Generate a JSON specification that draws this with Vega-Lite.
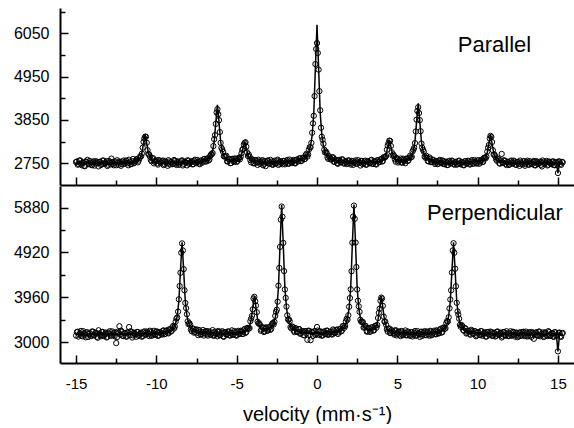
{
"$schema": "https://vega.github.io/schema/vega-lite/v6.json",
"padding": {"left": 13, "top": 8, "right": 0, "bottom": 0},
"config": {"view": {"stroke": null}, "font": "Liberation Sans",
 "axis": {"domainColor": "#000", "tickColor": "#000", "labelColor": "#000", "labelFont": "Liberation Sans", "titleFont": "Liberation Sans", "titleColor": "#000", "grid": false, "labelFlush": false, "labelOverlap": false, "domainWidth": 2, "tickWidth": 1.5}},
"data": {"values": [
{"v":-15,"a":2781,"af":2756,"b":3138,"bf":3168},
{"v":-14.9,"a":2716,"af":2756,"b":3223,"bf":3168},
{"v":-14.8,"a":2816,"af":2756,"b":3158,"bf":3168},
{"v":-14.7,"a":2741,"af":2756,"b":3238,"bf":3168},
{"v":-14.6,"a":2761,"af":2756,"b":3123,"bf":3168},
{"v":-14.5,"a":2686,"af":2756,"b":3188,"bf":3168},
{"v":-14.4,"a":2791,"af":2756,"b":3103,"bf":3168},
{"v":-14.3,"a":2836,"af":2756,"b":3208,"bf":3168},
{"v":-14.2,"a":2726,"af":2756,"b":3173,"bf":3168},
{"v":-14.1,"a":2766,"af":2756,"b":3133,"bf":3168},
{"v":-14,"a":2701,"af":2756,"b":3228,"bf":3168},
{"v":-13.9,"a":2802,"af":2757,"b":3148,"bf":3168},
{"v":-13.8,"a":2752,"af":2757,"b":3198,"bf":3168},
{"v":-13.7,"a":2777,"af":2757,"b":3113,"bf":3168},
{"v":-13.6,"a":2672,"af":2757,"b":3253,"bf":3168},
{"v":-13.5,"a":2787,"af":2757,"b":3153,"bf":3168},
{"v":-13.4,"a":2732,"af":2757,"b":3214,"bf":3169},
{"v":-13.3,"a":2822,"af":2757,"b":3129,"bf":3169},
{"v":-13.2,"a":2747,"af":2757,"b":3179,"bf":3169},
{"v":-13.1,"a":2807,"af":2757,"b":3099,"bf":3169},
{"v":-13,"a":2712,"af":2757,"b":3204,"bf":3169},
{"v":-12.9,"a":2774,"af":2759,"b":3234,"bf":3169},
{"v":-12.8,"a":2869,"af":2759,"b":3144,"bf":3169},
{"v":-12.7,"a":2740,"af":2760,"b":3189,"bf":3169},
{"v":-12.6,"a":2800,"af":2760,"b":3124,"bf":3169},
{"v":-12.5,"a":2701,"af":2761,"b":2979,"bf":3169},
{"v":-12.4,"a":2767,"af":2762,"b":3220,"bf":3170},
{"v":-12.3,"a":2797,"af":2762,"b":3340,"bf":3170},
{"v":-12.2,"a":2688,"af":2763,"b":3245,"bf":3170},
{"v":-12.1,"a":2789,"af":2764,"b":3135,"bf":3170},
{"v":-12,"a":2735,"af":2765,"b":3195,"bf":3170},
{"v":-11.9,"a":2822,"af":2767,"b":3121,"bf":3171},
{"v":-11.8,"a":2754,"af":2769,"b":3211,"bf":3171},
{"v":-11.7,"a":2842,"af":2772,"b":3321,"bf":3171},
{"v":-11.6,"a":2725,"af":2775,"b":3232,"bf":3172},
{"v":-11.5,"a":2800,"af":2780,"b":3097,"bf":3172},
{"v":-11.4,"a":2753,"af":2788,"b":3202,"bf":3172},
{"v":-11.3,"a":2808,"af":2798,"b":3162,"bf":3172},
{"v":-11.2,"a":2861,"af":2816,"b":3218,"bf":3173},
{"v":-11.1,"a":2820,"af":2845,"b":3133,"bf":3173},
{"v":-11,"a":2930,"af":2900,"b":3188,"bf":3173},
{"v":-10.9,"a":2995,"af":3015,"b":3114,"bf":3174},
{"v":-10.8,"a":3294,"af":3254,"b":3210,"bf":3175},
{"v":-10.7,"a":3426,"af":3476,"b":3150,"bf":3175},
{"v":-10.6,"a":3271,"af":3256,"b":3226,"bf":3176},
{"v":-10.5,"a":2986,"af":3016,"b":3172,"bf":3177},
{"v":-10.4,"a":2921,"af":2901,"b":3243,"bf":3178},
{"v":-10.3,"a":2802,"af":2847,"b":3134,"bf":3179},
{"v":-10.2,"a":2878,"af":2818,"b":3201,"bf":3181},
{"v":-10.1,"a":2790,"af":2800,"b":3152,"bf":3182},
{"v":-10,"a":2825,"af":2790,"b":3224,"bf":3184},
{"v":-9.9,"a":2718,"af":2783,"b":3132,"bf":3187},
{"v":-9.8,"a":2803,"af":2778,"b":3214,"bf":3189},
{"v":-9.7,"a":2770,"af":2775,"b":3178,"bf":3193},
{"v":-9.6,"a":2822,"af":2772,"b":3242,"bf":3197},
{"v":-9.5,"a":2730,"af":2770,"b":3168,"bf":3203},
{"v":-9.4,"a":2783,"af":2768,"b":3240,"bf":3210},
{"v":-9.3,"a":2687,"af":2767,"b":3200,"bf":3220},
{"v":-9.2,"a":2796,"af":2766,"b":3274,"bf":3234},
{"v":-9.1,"a":2770,"af":2765,"b":3224,"bf":3254},
{"v":-9,"a":2730,"af":2765,"b":3318,"bf":3283},
{"v":-8.9,"a":2834,"af":2764,"b":3291,"bf":3331},
{"v":-8.8,"a":2744,"af":2764,"b":3439,"bf":3409},
{"v":-8.7,"a":2804,"af":2764,"b":3526,"bf":3561},
{"v":-8.6,"a":2710,"af":2765,"b":3916,"bf":3876},
{"v":-8.5,"a":2775,"af":2765,"b":4485,"bf":4530},
{"v":-8.4,"a":2826,"af":2766,"b":5114,"bf":5139},
{"v":-8.3,"a":2736,"af":2766,"b":4562,"bf":4532},
{"v":-8.2,"a":2787,"af":2767,"b":3838,"bf":3878},
{"v":-8.1,"a":2698,"af":2768,"b":3598,"bf":3563},
{"v":-8,"a":2814,"af":2769,"b":3382,"bf":3412},
{"v":-7.9,"a":2760,"af":2770,"b":3374,"bf":3334},
{"v":-7.8,"a":2802,"af":2772,"b":3232,"bf":3287},
{"v":-7.7,"a":2729,"af":2774,"b":3282,"bf":3257},
{"v":-7.6,"a":2841,"af":2776,"b":3217,"bf":3237},
{"v":-7.5,"a":2754,"af":2779,"b":3273,"bf":3223},
{"v":-7.4,"a":2797,"af":2782,"b":3148,"bf":3213},
{"v":-7.3,"a":2726,"af":2786,"b":3222,"bf":3207},
{"v":-7.2,"a":2827,"af":2792,"b":3166,"bf":3201},
{"v":-7.1,"a":2795,"af":2800,"b":3257,"bf":3197},
{"v":-7,"a":2861,"af":2811,"b":3184,"bf":3194},
{"v":-6.9,"a":2796,"af":2826,"b":3237,"bf":3192},
{"v":-6.8,"a":2873,"af":2848,"b":3139,"bf":3189},
{"v":-6.7,"a":2844,"af":2884,"b":3208,"bf":3188},
{"v":-6.6,"a":2976,"af":2946,"b":3157,"bf":3187},
{"v":-6.5,"a":3012,"af":3062,"b":3256,"bf":3186},
{"v":-6.4,"a":3363,"af":3303,"b":3145,"bf":3185},
{"v":-6.3,"a":3750,"af":3790,"b":3189,"bf":3184},
{"v":-6.2,"a":4122,"af":4232,"b":3123,"bf":3183},
{"v":-6.1,"a":3845,"af":3795,"b":3218,"bf":3183},
{"v":-6,"a":3268,"af":3303,"b":3157,"bf":3182},
{"v":-5.9,"a":3103,"af":3063,"b":3233,"bf":3183},
{"v":-5.8,"a":2929,"af":2949,"b":3113,"bf":3183},
{"v":-5.7,"a":2924,"af":2889,"b":3213,"bf":3183},
{"v":-5.6,"a":2800,"af":2855,"b":3168,"bf":3183},
{"v":-5.5,"a":2855,"af":2835,"b":3224,"bf":3184},
{"v":-5.4,"a":2752,"af":2822,"b":3140,"bf":3185},
{"v":-5.3,"a":2860,"af":2815,"b":3251,"bf":3186},
{"v":-5.2,"a":2799,"af":2814,"b":3157,"bf":3187},
{"v":-5.1,"a":2876,"af":2816,"b":3210,"bf":3190},
{"v":-5,"a":2785,"af":2825,"b":3138,"bf":3193},
{"v":-4.9,"a":2868,"af":2843,"b":3241,"bf":3196},
{"v":-4.8,"a":2851,"af":2881,"b":3181,"bf":3201},
{"v":-4.7,"a":3004,"af":2964,"b":3236,"bf":3206},
{"v":-4.6,"a":3119,"af":3139,"b":3175,"bf":3215},
{"v":-4.5,"a":3270,"af":3300,"b":3283,"bf":3228},
{"v":-4.4,"a":3171,"af":3136,"b":3213,"bf":3248},
{"v":-4.3,"a":2934,"af":2959,"b":3306,"bf":3281},
{"v":-4.2,"a":2923,"af":2873,"b":3299,"bf":3344},
{"v":-4.1,"a":2773,"af":2833,"b":3504,"bf":3474},
{"v":-4,"a":2826,"af":2811,"b":3701,"bf":3741},
{"v":-3.9,"a":2752,"af":2797,"b":3969,"bf":3989},
{"v":-3.8,"a":2820,"af":2790,"b":3781,"bf":3746},
{"v":-3.7,"a":2709,"af":2784,"b":3438,"bf":3483},
{"v":-3.6,"a":2800,"af":2780,"b":3399,"bf":3359},
{"v":-3.5,"a":2768,"af":2778,"b":3242,"bf":3302},
{"v":-3.4,"a":2831,"af":2776,"b":3307,"bf":3277},
{"v":-3.3,"a":2739,"af":2774,"b":3215,"bf":3265},
{"v":-3.2,"a":2679,"af":2774,"b":3309,"bf":3264},
{"v":-3.1,"a":2812,"af":2772,"b":3245,"bf":3270},
{"v":-3,"a":2752,"af":2772,"b":3319,"bf":3284},
{"v":-2.9,"a":2837,"af":2772,"b":3262,"bf":3307},
{"v":-2.8,"a":2722,"af":2772,"b":3384,"bf":3344},
{"v":-2.7,"a":2783,"af":2773,"b":3378,"bf":3408},
{"v":-2.6,"a":2742,"af":2772,"b":3561,"bf":3516},
{"v":-2.5,"a":2818,"af":2773,"b":3693,"bf":3728},
{"v":-2.4,"a":2709,"af":2774,"b":4209,"bf":4169},
{"v":-2.3,"a":2801,"af":2776,"b":5039,"bf":5084},
{"v":-2.2,"a":2761,"af":2776,"b":5903,"bf":5933},
{"v":-2.1,"a":2812,"af":2777,"b":5124,"bf":5084},
{"v":-2,"a":2724,"af":2779,"b":4127,"bf":4167},
{"v":-1.9,"a":2801,"af":2781,"b":3761,"bf":3726},
{"v":-1.8,"a":2743,"af":2783,"b":3482,"bf":3512},
{"v":-1.7,"a":2846,"af":2786,"b":3447,"bf":3402},
{"v":-1.6,"a":2765,"af":2790,"b":3295,"bf":3335},
{"v":-1.5,"a":2805,"af":2795,"b":3324,"bf":3294},
{"v":-1.4,"a":2755,"af":2800,"b":3213,"bf":3268},
{"v":-1.3,"a":2837,"af":2807,"b":3289,"bf":3249},
{"v":-1.2,"a":2794,"af":2814,"b":3214,"bf":3234},
{"v":-1.1,"a":2875,"af":2825,"b":3278,"bf":3223},
{"v":-1,"a":2804,"af":2839,"b":3182,"bf":3217},
{"v":-0.9,"a":2883,"af":2858,"b":3235,"bf":3210},
{"v":-0.8,"a":2852,"af":2882,"b":3145,"bf":3205},
{"v":-0.7,"a":2958,"af":2918,"b":3232,"bf":3202},
{"v":-0.6,"a":2920,"af":2970,"b":3049,"bf":3199},
{"v":-0.5,"a":3100,"af":3055,"b":3242,"bf":3197},
{"v":-0.4,"a":3155,"af":3195,"b":3040,"bf":3195},
{"v":-0.3,"a":3525,"af":3465,"b":3213,"bf":3193},
{"v":-0.2,"a":3955,"af":4025,"b":3227,"bf":3192},
{"v":-0.1,"a":5267,"af":5187,"b":3152,"bf":3192},
{"v":0,"a":5800,"af":6265,"b":3322,"bf":3192},
{"v":0.1,"a":5127,"af":5187,"b":3163,"bf":3193},
{"v":0.2,"a":4095,"af":4025,"b":3232,"bf":3192},
{"v":0.3,"a":3425,"af":3465,"b":3137,"bf":3192},
{"v":0.4,"a":3245,"af":3195,"b":3218,"bf":3193},
{"v":0.5,"a":3025,"af":3055,"b":3174,"bf":3194},
{"v":0.6,"a":3015,"af":2970,"b":3246,"bf":3196},
{"v":0.7,"a":2863,"af":2918,"b":3153,"bf":3198},
{"v":0.8,"a":2902,"af":2882,"b":3216,"bf":3201},
{"v":0.9,"a":2848,"af":2858,"b":3170,"bf":3205},
{"v":1,"a":2904,"af":2839,"b":3270,"bf":3210},
{"v":1.1,"a":2785,"af":2825,"b":3192,"bf":3217},
{"v":1.2,"a":2829,"af":2814,"b":3258,"bf":3223},
{"v":1.3,"a":2737,"af":2807,"b":3174,"bf":3234},
{"v":1.4,"a":2835,"af":2800,"b":3269,"bf":3249},
{"v":1.5,"a":2775,"af":2795,"b":3228,"bf":3268},
{"v":1.6,"a":2845,"af":2790,"b":3340,"bf":3295},
{"v":1.7,"a":2741,"af":2786,"b":3306,"bf":3336},
{"v":1.8,"a":2793,"af":2783,"b":3444,"bf":3404},
{"v":1.9,"a":2751,"af":2781,"b":3479,"bf":3514},
{"v":2,"a":2819,"af":2779,"b":3757,"bf":3727},
{"v":2.1,"a":2718,"af":2778,"b":4130,"bf":4170},
{"v":2.2,"a":2802,"af":2777,"b":5129,"bf":5094},
{"v":2.3,"a":2761,"af":2776,"b":5924,"bf":5944},
{"v":2.4,"a":2825,"af":2775,"b":5132,"bf":5092},
{"v":2.5,"a":2739,"af":2774,"b":4127,"bf":4172},
{"v":2.6,"a":2779,"af":2774,"b":3765,"bf":3730},
{"v":2.7,"a":2694,"af":2774,"b":3478,"bf":3518},
{"v":2.8,"a":2804,"af":2774,"b":3439,"bf":3409},
{"v":2.9,"a":2753,"af":2773,"b":3310,"bf":3345},
{"v":3,"a":2818,"af":2773,"b":3352,"bf":3307},
{"v":3.1,"a":2723,"af":2773,"b":3223,"bf":3283},
{"v":3.2,"a":2789,"af":2774,"b":3299,"bf":3269},
{"v":3.3,"a":2750,"af":2775,"b":3218,"bf":3263},
{"v":3.4,"a":2837,"af":2777,"b":3315,"bf":3265},
{"v":3.5,"a":2738,"af":2778,"b":3246,"bf":3276},
{"v":3.6,"a":2801,"af":2781,"b":3341,"bf":3301},
{"v":3.7,"a":2721,"af":2786,"b":3308,"bf":3358},
{"v":3.8,"a":2826,"af":2791,"b":3516,"bf":3481},
{"v":3.9,"a":2789,"af":2799,"b":3716,"bf":3741},
{"v":4,"a":2864,"af":2814,"b":3953,"bf":3983},
{"v":4.1,"a":2807,"af":2837,"b":3776,"bf":3736},
{"v":4.2,"a":2908,"af":2883,"b":3437,"bf":3472},
{"v":4.3,"a":2936,"af":2976,"b":3372,"bf":3342},
{"v":4.4,"a":3199,"af":3169,"b":3224,"bf":3279},
{"v":4.5,"a":3324,"af":3349,"b":3292,"bf":3247},
{"v":4.6,"a":3192,"af":3172,"b":3198,"bf":3228},
{"v":4.7,"a":2946,"af":2981,"b":3235,"bf":3215},
{"v":4.8,"a":2935,"af":2890,"b":3161,"bf":3206},
{"v":4.9,"a":2792,"af":2847,"b":3255,"bf":3200},
{"v":5,"a":2856,"af":2826,"b":3176,"bf":3196},
{"v":5.1,"a":2800,"af":2815,"b":3227,"bf":3192},
{"v":5.2,"a":2872,"af":2812,"b":3129,"bf":3189},
{"v":5.3,"a":2766,"af":2811,"b":3227,"bf":3187},
{"v":5.4,"a":2835,"af":2815,"b":3171,"bf":3186},
{"v":5.5,"a":2752,"af":2822,"b":3249,"bf":3184},
{"v":5.6,"a":2875,"af":2835,"b":3143,"bf":3183},
{"v":5.7,"a":2831,"af":2856,"b":3208,"bf":3183},
{"v":5.8,"a":2946,"af":2891,"b":3132,"bf":3182},
{"v":5.9,"a":2916,"af":2951,"b":3212,"bf":3182},
{"v":6,"a":3096,"af":3066,"b":3156,"bf":3181},
{"v":6.1,"a":3262,"af":3307,"b":3236,"bf":3181},
{"v":6.2,"a":3857,"af":3807,"b":3136,"bf":3181},
{"v":6.3,"a":4172,"af":4272,"b":3191,"bf":3181},
{"v":6.4,"a":3846,"af":3806,"b":3112,"bf":3182},
{"v":6.5,"a":3253,"af":3303,"b":3222,"bf":3182},
{"v":6.6,"a":3095,"af":3060,"b":3163,"bf":3183},
{"v":6.7,"a":2924,"af":2944,"b":3235,"bf":3185},
{"v":6.8,"a":2944,"af":2884,"b":3150,"bf":3185},
{"v":6.9,"a":2807,"af":2847,"b":3212,"bf":3187},
{"v":7,"a":2899,"af":2824,"b":3135,"bf":3190},
{"v":7.1,"a":2779,"af":2809,"b":3227,"bf":3192},
{"v":7.2,"a":2844,"af":2799,"b":3180,"bf":3195},
{"v":7.3,"a":2776,"af":2791,"b":3244,"bf":3199},
{"v":7.4,"a":2812,"af":2787,"b":3165,"bf":3205},
{"v":7.5,"a":2727,"af":2782,"b":3232,"bf":3212},
{"v":7.6,"a":2814,"af":2779,"b":3192,"bf":3222},
{"v":7.7,"a":2766,"af":2776,"b":3286,"bf":3236},
{"v":7.8,"a":2824,"af":2774,"b":3210,"bf":3255},
{"v":7.9,"a":2732,"af":2772,"b":3314,"bf":3284},
{"v":8,"a":2791,"af":2771,"b":3297,"bf":3332},
{"v":8.1,"a":2705,"af":2770,"b":3450,"bf":3410},
{"v":8.2,"a":2799,"af":2769,"b":3532,"bf":3562},
{"v":8.3,"a":2748,"af":2768,"b":3912,"bf":3877},
{"v":8.4,"a":2821,"af":2766,"b":4491,"bf":4531},
{"v":8.5,"a":2730,"af":2765,"b":5118,"bf":5138},
{"v":8.6,"a":2780,"af":2765,"b":4570,"bf":4530},
{"v":8.7,"a":2715,"af":2765,"b":3841,"bf":3876},
{"v":8.8,"a":2804,"af":2764,"b":3591,"bf":3561},
{"v":8.9,"a":2740,"af":2765,"b":3369,"bf":3409},
{"v":9,"a":2775,"af":2765,"b":3366,"bf":3331},
{"v":9.1,"a":2705,"af":2765,"b":3258,"bf":3283},
{"v":9.2,"a":2801,"af":2766,"b":3299,"bf":3254},
{"v":9.3,"a":2751,"af":2766,"b":3184,"bf":3234},
{"v":9.4,"a":2816,"af":2766,"b":3240,"bf":3220},
{"v":9.5,"a":2722,"af":2767,"b":3175,"bf":3210},
{"v":9.6,"a":2794,"af":2769,"b":3263,"bf":3203},
{"v":9.7,"a":2741,"af":2771,"b":3182,"bf":3197},
{"v":9.8,"a":2834,"af":2774,"b":3233,"bf":3193},
{"v":9.9,"a":2756,"af":2776,"b":3124,"bf":3189},
{"v":10,"a":2821,"af":2781,"b":3212,"bf":3187},
{"v":10.1,"a":2739,"af":2789,"b":3154,"bf":3184},
{"v":10.2,"a":2814,"af":2799,"b":3237,"bf":3182},
{"v":10.3,"a":2782,"af":2817,"b":3136,"bf":3181},
{"v":10.4,"a":2891,"af":2846,"b":3194,"bf":3179},
{"v":10.5,"a":2876,"af":2901,"b":3118,"bf":3178},
{"v":10.6,"a":3046,"af":3016,"b":3212,"bf":3177},
{"v":10.7,"a":3215,"af":3255,"b":3156,"bf":3176},
{"v":10.8,"a":3447,"af":3477,"b":3225,"bf":3175},
{"v":10.9,"a":3290,"af":3255,"b":3135,"bf":3175},
{"v":11,"a":2971,"af":3016,"b":3204,"bf":3174},
{"v":11.1,"a":2921,"af":2901,"b":3118,"bf":3173},
{"v":11.2,"a":2816,"af":2846,"b":3218,"bf":3173},
{"v":11.3,"a":2856,"af":2816,"b":3163,"bf":3173},
{"v":11.4,"a":2743,"af":2798,"b":3193,"bf":3173},
{"v":11.5,"a":2988,"af":2788,"b":3098,"bf":3173},
{"v":11.6,"a":2760,"af":2780,"b":3212,"bf":3172},
{"v":11.7,"a":2810,"af":2775,"b":3142,"bf":3172},
{"v":11.8,"a":2706,"af":2771,"b":3232,"bf":3172},
{"v":11.9,"a":2788,"af":2768,"b":3127,"bf":3172},
{"v":12,"a":2726,"af":2766,"b":3187,"bf":3172},
{"v":12.1,"a":2820,"af":2765,"b":3136,"bf":3171},
{"v":12.2,"a":2754,"af":2764,"b":3221,"bf":3171},
{"v":12.3,"a":2793,"af":2763,"b":3151,"bf":3171},
{"v":12.4,"a":2712,"af":2762,"b":3206,"bf":3171},
{"v":12.5,"a":2786,"af":2761,"b":3106,"bf":3171},
{"v":12.6,"a":2685,"af":2760,"b":3196,"bf":3171},
{"v":12.7,"a":2775,"af":2760,"b":3130,"bf":3170},
{"v":12.8,"a":2724,"af":2759,"b":3215,"bf":3170},
{"v":12.9,"a":2804,"af":2759,"b":3155,"bf":3170},
{"v":13,"a":2738,"af":2758,"b":3225,"bf":3170},
{"v":13.1,"a":2818,"af":2758,"b":3120,"bf":3170},
{"v":13.2,"a":2713,"af":2758,"b":3190,"bf":3170},
{"v":13.3,"a":2768,"af":2758,"b":3140,"bf":3170},
{"v":13.4,"a":2728,"af":2758,"b":3210,"bf":3170},
{"v":13.5,"a":2808,"af":2758,"b":3070,"bf":3170},
{"v":13.6,"a":2697,"af":2757,"b":3199,"bf":3169},
{"v":13.7,"a":2782,"af":2757,"b":3149,"bf":3169},
{"v":13.8,"a":2742,"af":2757,"b":3224,"bf":3169},
{"v":13.9,"a":2797,"af":2757,"b":3124,"bf":3169},
{"v":14,"a":2672,"af":2757,"b":3179,"bf":3169},
{"v":14.1,"a":2787,"af":2757,"b":3109,"bf":3169},
{"v":14.2,"a":2752,"af":2757,"b":3209,"bf":3169},
{"v":14.3,"a":2811,"af":2756,"b":3144,"bf":3169},
{"v":14.4,"a":2716,"af":2756,"b":3234,"bf":3169},
{"v":14.5,"a":2776,"af":2756,"b":3134,"bf":3169},
{"v":14.6,"a":2726,"af":2756,"b":3188,"bf":3168},
{"v":14.7,"a":2801,"af":2756,"b":3118,"bf":3168},
{"v":14.8,"a":2701,"af":2756,"b":3213,"bf":3168},
{"v":14.9,"a":2771,"af":2756,"b":3138,"bf":3168},
{"v":15,"a":2504,"af":2504,"b":2802,"bf":2802},
{"v":15.1,"a":2791,"af":2756,"b":3203,"bf":3168},
{"v":15.2,"a":2711,"af":2756,"b":3113,"bf":3168},
{"v":15.3,"a":2776,"af":2756,"b":3193,"bf":3168},
{"v":-14.95,"a":2796,"b":3213},{"v":-14.85,"a":2731,"b":3118},{"v":-14.75,"a":2826,"b":3188},{"v":-14.65,"a":2701,"b":3138},
{"v":-14.55,"a":2771,"b":3233},{"v":-14.45,"a":2676,"b":3153},{"v":-14.35,"a":2791,"b":3208},{"v":-14.25,"a":2746,"b":3108},
{"v":-14.15,"a":2811,"b":3193},{"v":-14.05,"a":2716,"b":3128},{"v":-13.95,"a":2777,"b":3223},{"v":-13.85,"a":2692,"b":3148},
{"v":-13.75,"a":2802,"b":3198},{"v":-13.65,"a":2752,"b":3093},{"v":-13.55,"a":2787,"b":3183},{"v":-13.45,"a":2707,"b":3124},
{"v":-13.35,"a":2817,"b":3219},{"v":-13.25,"a":2737,"b":3144},{"v":-13.15,"a":2767,"b":3204},{"v":-13.05,"a":2682,"b":3114},
{"v":-12.95,"a":2808,"b":3179},{"v":-12.85,"a":2724,"b":3134},{"v":-12.75,"a":2785,"b":3229},{"v":-12.65,"a":2700,"b":3149},
{"v":-12.55,"a":2766,"b":3209},{"v":-12.45,"a":2827,"b":3105},{"v":-12.35,"a":2717,"b":3195},{"v":-12.25,"a":2778,"b":3160},
{"v":-12.15,"a":2734,"b":3220},{"v":-12.05,"a":2820,"b":3130},{"v":-11.95,"a":2751,"b":3191},{"v":-11.85,"a":2808,"b":3116},
{"v":-11.75,"a":2700,"b":3206},{"v":-11.65,"a":2793,"b":3147},{"v":-11.55,"a":2737,"b":3217},{"v":-11.45,"a":2859,"b":3142},
{"v":-11.35,"a":2768,"b":3187},{"v":-11.25,"a":2842,"b":3113},{"v":-11.15,"a":2774,"b":3213},{"v":-11.05,"a":2879,"b":3153},
{"v":-10.95,"a":2928,"b":3204},{"v":-10.85,"a":3147,"b":3130},{"v":-10.75,"a":3380,"b":3230},{"v":-10.65,"a":3425,"b":3161},
{"v":-10.55,"a":3082,"b":3202},{"v":-10.45,"a":2973,"b":3128},{"v":-10.35,"a":2840,"b":3214},{"v":-10.25,"a":2875,"b":3150},
{"v":-10.15,"a":2748,"b":3242},{"v":-10.05,"a":2810,"b":3163},{"v":-9.95,"a":2746,"b":3226},{"v":-9.85,"a":2835,"b":3143},
{"v":-9.75,"a":2766,"b":3211},{"v":-9.65,"a":2803,"b":3160},{"v":-9.55,"a":2706,"b":3250},{"v":-9.45,"a":2809,"b":3181},
{"v":-9.35,"a":2747,"b":3250},{"v":-9.25,"a":2831,"b":3186},{"v":-9.15,"a":2720,"b":3270},{"v":-9.05,"a":2785,"b":3239},
{"v":-8.95,"a":2734,"b":3346},{"v":-8.85,"a":2814,"b":3332},{"v":-8.75,"a":2709,"b":3505},{"v":-8.65,"a":2775,"b":3652},
{"v":-8.55,"a":2745,"b":4200},{"v":-8.45,"a":2811,"b":4913},{"v":-8.35,"a":2696,"b":4963},{"v":-8.25,"a":2792,"b":4110},
{"v":-8.15,"a":2763,"b":3727},{"v":-8.05,"a":2828,"b":3445},{"v":-7.95,"a":2735,"b":3407},{"v":-7.85,"a":2791,"b":3271},
{"v":-7.75,"a":2723,"b":3295},{"v":-7.65,"a":2815,"b":3201},{"v":-7.55,"a":2762,"b":3260},{"v":-7.45,"a":2835,"b":3198},
{"v":-7.35,"a":2744,"b":3260},{"v":-7.25,"a":2804,"b":3164},{"v":-7.15,"a":2766,"b":3214},{"v":-7.05,"a":2850,"b":3140},
{"v":-6.95,"a":2798,"b":3228},{"v":-6.85,"a":2871,"b":3165},{"v":-6.75,"a":2821,"b":3233},{"v":-6.65,"a":2932,"b":3157},
{"v":-6.55,"a":2980,"b":3206},{"v":-6.45,"a":3188,"b":3135},{"v":-6.35,"a":3465,"b":3224},{"v":-6.25,"a":4040,"b":3168},
{"v":-6.15,"a":3995,"b":3238},{"v":-6.05,"a":3543,"b":3147},{"v":-5.95,"a":3145,"b":3207},{"v":-5.85,"a":3043,"b":3123},
{"v":-5.75,"a":2922,"b":3213},{"v":-5.65,"a":2941,"b":3163},{"v":-5.55,"a":2800,"b":3228},{"v":-5.45,"a":2858,"b":3144},
{"v":-5.35,"a":2758,"b":3200},{"v":-5.25,"a":2864,"b":3156},{"v":-5.15,"a":2790,"b":3238},{"v":-5.05,"a":2855,"b":3146},
{"v":-4.95,"a":2813,"b":3214},{"v":-4.85,"a":2895,"b":3173},{"v":-4.75,"a":2912,"b":3243},{"v":-4.65,"a":3090,"b":3175},
{"v":-4.55,"a":3232,"b":3250},{"v":-4.45,"a":3285,"b":3197},{"v":-4.35,"a":3028,"b":3300},{"v":-4.25,"a":2975,"b":3287},
{"v":-4.15,"a":2832,"b":3447},{"v":-4.05,"a":2855,"b":3562},{"v":-3.95,"a":2749,"b":3935},{"v":-3.85,"a":2833,"b":3875},
{"v":-3.75,"a":2767,"b":3640},{"v":-3.65,"a":2842,"b":3402},{"v":-3.55,"a":2734,"b":3372},{"v":-3.45,"a":2802,"b":3265},
{"v":-3.35,"a":2700,"b":3315},{"v":-3.25,"a":2809,"b":3231},{"v":-3.15,"a":2763,"b":3312},{"v":-3.05,"a":2822,"b":3248},
{"v":-2.95,"a":2732,"b":3320},{"v":-2.85,"a":2792,"b":3285},{"v":-2.75,"a":2712,"b":3409},{"v":-2.65,"a":2817,"b":3433},
{"v":-2.55,"a":2747,"b":3649},{"v":-2.45,"a":2843,"b":3866},{"v":-2.35,"a":2740,"b":4589},{"v":-2.25,"a":2791,"b":5622},
{"v":-2.15,"a":2726,"b":5685},{"v":-2.05,"a":2808,"b":4520},{"v":-1.95,"a":2760,"b":3946},{"v":-1.85,"a":2837,"b":3573},
{"v":-1.75,"a":2739,"b":3486},{"v":-1.65,"a":2813,"b":3320},{"v":-1.55,"a":2762,"b":3333},{"v":-1.45,"a":2837,"b":3245},
{"v":-1.35,"a":2748,"b":3298},{"v":-1.25,"a":2845,"b":3216},{"v":-1.15,"a":2805,"b":3278},{"v":-1.05,"a":2877,"b":3180},
{"v":-0.95,"a":2818,"b":3233},{"v":-0.85,"a":2895,"b":3152},{"v":-0.75,"a":2860,"b":3233},{"v":-0.65,"a":2995,"b":3185},
{"v":-0.55,"a":2975,"b":3243},{"v":-0.45,"a":3160,"b":3161},{"v":-0.35,"a":3268,"b":3219},{"v":-0.25,"a":3763,"b":3132},
{"v":-0.15,"a":4455,"b":3232},{"v":-0.05,"a":5650,"b":3172},{"v":0.05,"a":5550,"b":3247},{"v":0.15,"a":4580,"b":3152},
{"v":0.25,"a":3653,"b":3212},{"v":0.35,"a":3348,"b":3142},{"v":0.45,"a":3095,"b":3228},{"v":0.55,"a":3050,"b":3170},
{"v":0.65,"a":2900,"b":3242},{"v":0.75,"a":2930,"b":3169},{"v":0.85,"a":2850,"b":3223},{"v":0.95,"a":2898,"b":3162},
{"v":1.05,"a":2792,"b":3248},{"v":1.15,"a":2845,"b":3200},{"v":1.25,"a":2755,"b":3270},{"v":1.35,"a":2833,"b":3207},
{"v":1.45,"a":2782,"b":3285},{"v":1.55,"a":2852,"b":3243},{"v":1.65,"a":2753,"b":3347},{"v":1.75,"a":2804,"b":3345},
{"v":1.85,"a":2732,"b":3501},{"v":1.95,"a":2825,"b":3574},{"v":2.05,"a":2753,"b":3943},{"v":2.15,"a":2812,"b":4518},
{"v":2.25,"a":2711,"b":5688},{"v":2.35,"a":2790,"b":5640},{"v":2.45,"a":2744,"b":4608},{"v":2.55,"a":2829,"b":3886},
{"v":2.65,"a":2764,"b":3648},{"v":2.75,"a":2814,"b":3436},{"v":2.85,"a":2728,"b":3430},{"v":2.95,"a":2798,"b":3323},
{"v":3.05,"a":2713,"b":3335},{"v":3.15,"a":2808,"b":3231},{"v":3.25,"a":2754,"b":3296},{"v":3.35,"a":2826,"b":3244},
{"v":3.45,"a":2737,"b":3315},{"v":3.55,"a":2799,"b":3253},{"v":3.65,"a":2728,"b":3352},{"v":3.75,"a":2828,"b":3366},
{"v":3.85,"a":2780,"b":3626},{"v":3.95,"a":2840,"b":3884},{"v":4.05,"a":2795,"b":3935},{"v":4.15,"a":2905,"b":3545},
{"v":4.25,"a":2906,"b":3440},{"v":4.35,"a":3094,"b":3277},{"v":4.45,"a":3262,"b":3287},{"v":4.55,"a":3320,"b":3193},
{"v":4.65,"a":3030,"b":3256},{"v":4.75,"a":2973,"b":3190},{"v":4.85,"a":2853,"b":3243},{"v":4.95,"a":2888,"b":3143},
{"v":5.05,"a":2770,"b":3219},{"v":5.15,"a":2838,"b":3160},{"v":5.25,"a":2776,"b":3238},{"v":5.35,"a":2868,"b":3146},
{"v":5.45,"a":2798,"b":3200},{"v":5.55,"a":2858,"b":3148},{"v":5.65,"a":2806,"b":3228},{"v":5.75,"a":2897,"b":3157},
{"v":5.85,"a":2899,"b":3212},{"v":5.95,"a":3052,"b":3121},{"v":6.05,"a":3143,"b":3201},{"v":6.15,"a":3558,"b":3141},
{"v":6.25,"a":4077,"b":3236},{"v":6.35,"a":4025,"b":3166},{"v":6.45,"a":3565,"b":3217},{"v":6.55,"a":3150,"b":3132},
{"v":6.65,"a":3046,"b":3209},{"v":6.75,"a":2891,"b":3150},{"v":6.85,"a":2892,"b":3226},{"v":6.95,"a":2798,"b":3163},
{"v":7.05,"a":2866,"b":3241},{"v":7.15,"a":2784,"b":3148},{"v":7.25,"a":2830,"b":3217},{"v":7.35,"a":2734,"b":3172},
{"v":7.45,"a":2799,"b":3253},{"v":7.55,"a":2745,"b":3182},{"v":7.65,"a":2837,"b":3254},{"v":7.75,"a":2750,"b":3205},
{"v":7.85,"a":2803,"b":3304},{"v":7.95,"a":2726,"b":3281},{"v":8.05,"a":2790,"b":3407},{"v":8.15,"a":2709,"b":3440},
{"v":8.25,"a":2813,"b":3722},{"v":8.35,"a":2752,"b":4110},{"v":8.45,"a":2800,"b":4963},{"v":8.55,"a":2715,"b":4913},
{"v":8.65,"a":2790,"b":4195},{"v":8.75,"a":2734,"b":3657},{"v":8.85,"a":2819,"b":3500},{"v":8.95,"a":2725,"b":3327},
{"v":9.05,"a":2780,"b":3341},{"v":9.15,"a":2700,"b":3244},{"v":9.25,"a":2806,"b":3290},{"v":9.35,"a":2746,"b":3197},
{"v":9.45,"a":2796,"b":3235},{"v":9.55,"a":2723,"b":3156},{"v":9.65,"a":2830,"b":3235},{"v":9.75,"a":2742,"b":3175},
{"v":9.85,"a":2795,"b":3231},{"v":9.95,"a":2743,"b":3143},{"v":10.05,"a":2830,"b":3211},{"v":10.15,"a":2769,"b":3148},
{"v":10.25,"a":2843,"b":3232},{"v":10.35,"a":2790,"b":3165},{"v":10.45,"a":2894,"b":3209},{"v":10.55,"a":2918,"b":3118},
{"v":10.65,"a":3147,"b":3217},{"v":10.75,"a":3380,"b":3151},{"v":10.85,"a":3420,"b":3210},{"v":10.95,"a":3082,"b":3130},
{"v":11.05,"a":2973,"b":3194},{"v":11.15,"a":2849,"b":3138},{"v":11.25,"a":2870,"b":3228},{"v":11.35,"a":2752,"b":3153},
{"v":11.45,"a":2823,"b":3203},{"v":11.55,"a":2769,"b":3123},{"v":11.65,"a":2828,"b":3217},{"v":11.75,"a":2733,"b":3142},
{"v":11.85,"a":2790,"b":3187},{"v":11.95,"a":2707,"b":3132},{"v":12.05,"a":2801,"b":3232},{"v":12.15,"a":2740,"b":3146},
{"v":12.25,"a":2819,"b":3206},{"v":12.35,"a":2718,"b":3116},{"v":12.45,"a":2777,"b":3191},{"v":12.55,"a":2731,"b":3136},
{"v":12.65,"a":2820,"b":3211},{"v":12.75,"a":2740,"b":3155},{"v":12.85,"a":2799,"b":3220},{"v":12.95,"a":2689,"b":3125},
{"v":13.05,"a":2783,"b":3195},{"v":13.15,"a":2723,"b":3140},{"v":13.25,"a":2803,"b":3215},{"v":13.35,"a":2748,"b":3110},
{"v":13.45,"a":2788,"b":3200},{"v":13.55,"a":2703,"b":3150},{"v":13.65,"a":2807,"b":3209},{"v":13.75,"a":2732,"b":3134},
{"v":13.85,"a":2772,"b":3224},{"v":13.95,"a":2712,"b":3144},{"v":14.05,"a":2822,"b":3204},{"v":14.15,"a":2727,"b":3119},
{"v":14.25,"a":2776,"b":3189},{"v":14.35,"a":2696,"b":3129},{"v":14.45,"a":2796,"b":3214},{"v":14.55,"a":2741,"b":3139},
{"v":14.65,"a":2791,"b":3193},{"v":14.75,"a":2706,"b":3113},{"v":14.85,"a":2781,"b":3208},{"v":14.95,"a":2721,"b":3148},
{"v":15.05,"a":2801,"b":3198},{"v":15.15,"a":2736,"b":3123},{"v":15.25,"a":2786,"b":3188}
]},
"spacing": 0,
"vconcat": [
 {
  "width": 514, "height": 177,
  "resolve": {"axis": {"x": "independent", "y": "independent"}},
  "layer": [
   {"mark": {"type": "point", "shape": "circle", "filled": false, "size": 28, "strokeWidth": 1, "color": "#000", "opacity": 1},
    "encoding": {
     "x": {"field": "v", "type": "quantitative", "scale": {"domain": [-16, 16], "nice": false, "zero": false},
      "axis": {"orient": "bottom", "values": [-15,-10,-5,0,5,10,15], "labels": false, "title": null, "tickSize": -8}},
     "y": {"field": "a", "type": "quantitative", "scale": {"domain": [2200, 6690], "nice": false, "zero": false},
      "axis": {"orient": "left", "values": [2750,3850,4950,6050], "format": "d", "title": null, "labelFontSize": 16, "labelPadding": 19, "tickSize": -8}}}},
   {"transform": [{"filter": "isValid(datum.af)"}],
    "mark": {"type": "line", "color": "#000", "strokeWidth": 1.5},
    "encoding": {
     "x": {"field": "v", "type": "quantitative",
      "axis": {"orient": "bottom", "values": [-12.5,-7.5,-2.5,2.5,7.5,12.5], "labels": false, "title": null, "tickSize": -5, "domain": false}},
     "y": {"field": "af", "type": "quantitative",
      "axis": {"orient": "left", "values": [3300,4400,5500,6600], "labels": false, "title": null, "tickSize": -5, "domain": false}}}},
   {"data": {"values": [{"t": "Parallel"}]},
    "mark": {"type": "text", "fontSize": 22, "font": "Liberation Sans", "align": "center", "baseline": "alphabetic", "color": "#000"},
    "encoding": {
     "x": {"datum": 11.05, "type": "quantitative", "axis": {"orient": "bottom", "labels": false, "ticks": false, "domain": false, "title": null}},
     "y": {"datum": 5574, "type": "quantitative", "axis": {"orient": "left", "labels": false, "ticks": false, "domain": false, "title": null}},
     "text": {"field": "t"}}}
  ]
 },
 {
  "width": 514, "height": 177,
  "resolve": {"axis": {"x": "independent", "y": "independent"}},
  "layer": [
   {"mark": {"type": "point", "shape": "circle", "filled": false, "size": 28, "strokeWidth": 1, "color": "#000", "opacity": 1},
    "encoding": {
     "x": {"field": "v", "type": "quantitative", "scale": {"domain": [-16, 16], "nice": false, "zero": false},
      "axis": {"orient": "bottom", "values": [-15,-10,-5,0,5,10,15], "title": "velocity (mm·s⁻¹)", "tickSize": -8,
       "labelExpr": "datum.value < 0 ? '-' + abs(datum.value) : '' + datum.value",
       "labelFontSize": 15, "labelPadding": 21, "titleFontSize": 20, "titleFontWeight": "normal", "titleBaseline": "alphabetic", "titleY": 57}},
     "y": {"field": "b", "type": "quantitative", "scale": {"domain": [2552, 6343], "nice": false, "zero": false},
      "axis": {"orient": "left", "values": [3000,3960,4920,5880], "format": "d", "title": null, "labelFontSize": 16, "labelPadding": 19, "tickSize": -8}}}},
   {"transform": [{"filter": "isValid(datum.bf)"}],
    "mark": {"type": "line", "color": "#000", "strokeWidth": 1.5},
    "encoding": {
     "x": {"field": "v", "type": "quantitative",
      "axis": {"orient": "bottom", "values": [-12.5,-7.5,-2.5,2.5,7.5,12.5], "labels": false, "title": null, "tickSize": -5, "domain": false}},
     "y": {"field": "bf", "type": "quantitative",
      "axis": {"orient": "left", "values": [3480,4440,5400], "labels": false, "title": null, "tickSize": -5, "domain": false}}}},
   {"data": {"values": [{"t": "Perpendicular"}]},
    "mark": {"type": "text", "fontSize": 22, "font": "Liberation Sans", "align": "center", "baseline": "alphabetic", "color": "#000"},
    "encoding": {
     "x": {"datum": 11.08, "type": "quantitative", "axis": {"orient": "bottom", "labels": false, "ticks": false, "domain": false, "title": null}},
     "y": {"datum": 5608, "type": "quantitative", "axis": {"orient": "left", "labels": false, "ticks": false, "domain": false, "title": null}},
     "text": {"field": "t"}}}
  ]
 }
]
}
